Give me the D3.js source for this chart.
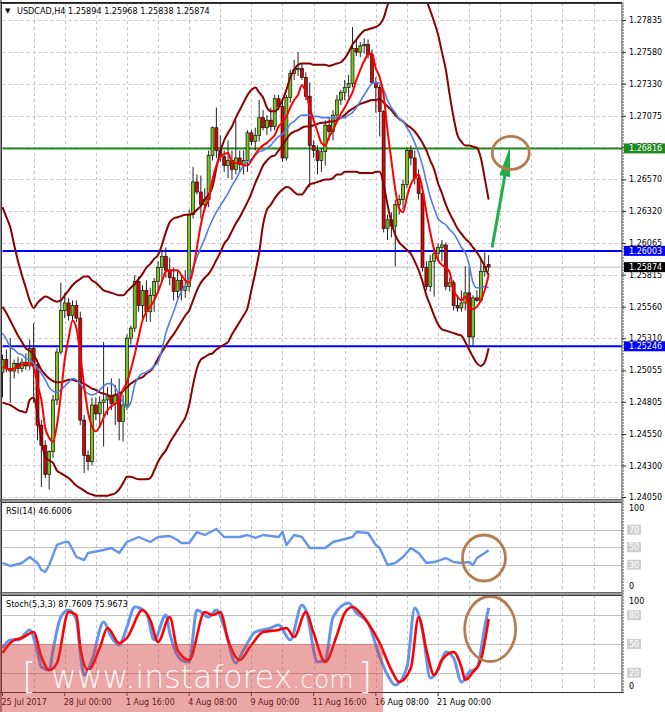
<!DOCTYPE html>
<html><head><meta charset="utf-8">
<script src="https://cdn.jsdelivr.net/npm/d3@7"></script>
<style>
body{margin:0;background:#fff;}
svg{display:block;}
text{font-family:"DejaVu Sans",sans-serif;}
</style>
</head><body>
<svg id="chart" width="665" height="712"></svg>
<script>
// ---------------- DATA ----------------
const opens=[1.2504,1.2514,1.2507,1.2505,1.2511,1.2507,1.2512,1.2509,1.2523,1.2510,
1.2462,1.2446,1.2423,1.2441,1.2482,1.2520,1.2553,1.2559,1.2549,1.2557,
1.2547,1.2466,1.2438,1.2433,1.2478,1.2471,1.2480,1.2482,1.2485,1.2479,
1.2486,1.2465,1.2478,1.2531,1.2539,1.2576,1.2557,1.2569,1.2552,1.2565,
1.2576,1.2587,1.2596,1.2585,1.2579,1.2568,1.2577,1.2569,1.2572,1.2629,
1.2655,1.2647,1.2637,1.2641,1.2676,1.2698,1.2680,1.2675,1.2668,1.2672,
1.2665,1.2674,1.2669,1.2672,1.2694,1.2687,1.2692,1.2706,1.2698,1.2704,
1.2699,1.2721,1.2715,1.2674,1.2722,1.2741,1.2744,1.2745,1.2738,1.2723,
1.2684,1.2680,1.2672,1.2679,1.2700,1.2695,1.2708,1.2720,1.2726,1.2730,
1.2733,1.2761,1.2758,1.2763,1.2764,1.2756,1.2734,1.2730,1.2711,1.2618,
1.2625,1.2620,1.2637,1.2641,1.2653,1.2680,1.2674,1.2658,1.2646,1.2587,
1.2572,1.2592,1.2598,1.2603,1.2605,1.2572,1.2575,1.2557,1.2555,1.2559,
1.2567,1.2532,1.2563,1.2561,1.2584,1.25894];
const highs=[1.2518,1.2522,1.2531,1.2514,1.2516,1.2515,1.2519,1.2530,1.2543,1.2514,
1.2466,1.2450,1.2442,1.2486,1.2523,1.2575,1.2567,1.2563,1.2561,1.2561,
1.2552,1.2470,1.2442,1.2484,1.2484,1.2485,1.2528,1.2492,1.2499,1.2494,
1.2499,1.2486,1.2534,1.2541,1.2581,1.2580,1.2573,1.2577,1.2571,1.2579,
1.2592,1.2601,1.2603,1.2595,1.2587,1.2584,1.2581,1.2585,1.2633,1.2667,
1.2661,1.2660,1.2650,1.2680,1.2699,1.2714,1.2692,1.2680,1.2688,1.2680,
1.2704,1.2680,1.2680,1.2696,1.2696,1.2698,1.2720,1.2712,1.2708,1.2714,
1.2724,1.2724,1.2720,1.2724,1.2744,1.2752,1.2758,1.2749,1.2742,1.2734,
1.2688,1.2684,1.2682,1.2704,1.2706,1.2712,1.2724,1.2728,1.2736,1.2740,
1.2778,1.2768,1.2766,1.2769,1.2768,1.2760,1.2738,1.2732,1.2712,1.2629,
1.2631,1.2641,1.2645,1.2657,1.2682,1.2684,1.2680,1.2665,1.2650,1.2592,
1.2597,1.2603,1.2606,1.2609,1.2607,1.2579,1.2577,1.2565,1.2569,1.2588,
1.2588,1.2565,1.2569,1.2593,1.2599,1.25968];
const lows=[1.2484,1.2504,1.2480,1.2499,1.2503,1.2504,1.2506,1.2506,1.2480,1.2450,
1.2413,1.2420,1.2411,1.2436,1.2478,1.2518,1.2547,1.2545,1.2545,1.2544,
1.2462,1.2424,1.2426,1.2430,1.2466,1.2462,1.2445,1.2470,1.2474,1.2462,
1.2450,1.2449,1.2474,1.2526,1.2536,1.2552,1.2547,1.2544,1.2544,1.2552,
1.2569,1.2576,1.2579,1.2573,1.2561,1.2563,1.2561,1.2563,1.2568,1.2626,
1.2645,1.2626,1.2631,1.2635,1.2672,1.2674,1.2671,1.2663,1.2658,1.2657,
1.2661,1.2663,1.2661,1.2663,1.2684,1.2680,1.2687,1.2696,1.2692,1.2695,
1.2696,1.2712,1.2671,1.2672,1.2718,1.2736,1.2739,1.2736,1.2720,1.2651,
1.2674,1.2661,1.2663,1.2668,1.2688,1.2688,1.2704,1.2716,1.2720,1.2722,
1.2730,1.2755,1.2754,1.2757,1.2753,1.2733,1.2710,1.2691,1.2615,1.2609,
1.2611,1.2588,1.2629,1.2633,1.2650,1.2668,1.2653,1.2641,1.2584,1.2569,
1.2568,1.2564,1.2592,1.2592,1.2569,1.2568,1.2553,1.2552,1.2552,1.2553,
1.2525,1.2525,1.2560,1.2559,1.2580,1.25838];
const closes=[1.2514,1.2507,1.2505,1.2511,1.2507,1.2512,1.2509,1.2523,1.2510,1.2462,
1.2446,1.2423,1.2441,1.2482,1.2520,1.2553,1.2559,1.2549,1.2557,1.2547,
1.2466,1.2438,1.2433,1.2478,1.2471,1.2480,1.2482,1.2485,1.2479,1.2486,
1.2465,1.2478,1.2531,1.2539,1.2576,1.2557,1.2569,1.2552,1.2565,1.2576,
1.2587,1.2596,1.2585,1.2579,1.2568,1.2577,1.2569,1.2572,1.2629,1.2655,
1.2647,1.2637,1.2641,1.2676,1.2698,1.2680,1.2675,1.2668,1.2672,1.2665,
1.2674,1.2669,1.2672,1.2694,1.2687,1.2692,1.2706,1.2698,1.2704,1.2699,
1.2721,1.2715,1.2674,1.2722,1.2741,1.2744,1.2745,1.2738,1.2723,1.2684,
1.2680,1.2672,1.2679,1.2700,1.2695,1.2708,1.2720,1.2726,1.2730,1.2733,
1.2761,1.2758,1.2763,1.2764,1.2756,1.2734,1.2730,1.2711,1.2618,1.2625,
1.2620,1.2637,1.2641,1.2653,1.2680,1.2674,1.2658,1.2646,1.2587,1.2572,
1.2592,1.2598,1.2603,1.2605,1.2572,1.2575,1.2557,1.2555,1.2559,1.2567,
1.2532,1.2563,1.2561,1.2584,1.2588,1.25874];

const maFast=[1.2508,1.2507,1.2506,1.2507,1.2508,1.2510,1.2511,1.2511,1.2508,1.2494,
1.2482,1.2460,1.2452,1.2449,1.2462,1.2486,1.2514,1.2531,1.2545,1.2539,
1.2518,1.2493,1.2472,1.2461,1.2457,1.2461,1.2468,1.2474,1.2477,1.2479,
1.2482,1.2490,1.2496,1.2506,1.2518,1.2532,1.2545,1.2552,1.2556,1.2561,
1.2568,1.2576,1.2584,1.2585,1.2585,1.2585,1.2581,1.2577,1.2575,1.2585,
1.2603,1.2621,1.2634,1.2641,1.2657,1.2668,1.2675,1.2677,1.2678,1.2671,
1.2670,1.2670,1.2668,1.2668,1.2672,1.2677,1.2681,1.2684,1.2686,1.2689,
1.2692,1.2699,1.2702,1.2707,1.2714,1.2720,1.2724,1.2732,1.2726,1.2714,
1.2704,1.2695,1.2686,1.2684,1.2691,1.2696,1.2703,1.2709,1.2714,1.2720,
1.2726,1.2736,1.2744,1.2751,1.2756,1.2757,1.2745,1.2738,1.2724,1.2696,
1.2672,1.2649,1.2634,1.2631,1.2643,1.2653,1.2658,1.2661,1.2649,1.2631,
1.2615,1.2601,1.2593,1.2589,1.2587,1.2583,1.2569,1.2564,1.2561,1.2564,
1.2555,1.2554,1.2556,1.2561,1.2569,1.2581];
const maSlow=[1.2535,1.2530,1.2524,1.2522,1.2519,1.2518,1.2515,1.2514,1.2511,1.2507,
1.2503,1.2498,1.2492,1.2489,1.2488,1.2490,1.2493,1.2496,1.2499,1.2498,
1.2495,1.2490,1.2487,1.2486,1.2487,1.2490,1.2493,1.2495,1.2495,1.2492,
1.2486,1.2480,1.2476,1.2480,1.2494,1.2500,1.2503,1.2504,1.2506,1.2509,
1.2512,1.2522,1.2535,1.2544,1.2552,1.2561,1.2568,1.2573,1.2579,1.2587,
1.2595,1.2603,1.2610,1.2618,1.2625,1.2631,1.2636,1.2641,1.2646,1.2652,
1.2657,1.2663,1.2668,1.2671,1.2673,1.2676,1.2679,1.2680,1.2682,1.2684,
1.2688,1.2691,1.2693,1.2696,1.2701,1.2703,1.2706,1.2708,1.2708,1.2708,
1.2707,1.2707,1.2706,1.2706,1.2706,1.2706,1.2706,1.2706,1.2706,1.2708,
1.2710,1.2714,1.2719,1.2724,1.2729,1.2733,1.2734,1.2733,1.2728,1.2720,
1.2714,1.2710,1.2705,1.2703,1.2698,1.2693,1.2686,1.2678,1.2668,1.2655,
1.2643,1.2634,1.2626,1.2623,1.2621,1.2617,1.2614,1.2609,1.2603,1.2599,
1.2589,1.2575,1.2571,1.2571,1.2572,1.2571];
const bbUpper=[1.2635,1.2627,1.2619,1.2605,1.2592,1.2581,1.2571,1.2561,1.2555,1.2559,
1.2562,1.2564,1.2563,1.2561,1.2560,1.2561,1.2565,1.2569,1.2573,1.2576,
1.2578,1.2580,1.2580,1.2577,1.2575,1.2572,1.2569,1.2568,1.2567,1.2566,
1.2565,1.2565,1.2568,1.2571,1.2574,1.2578,1.2582,1.2587,1.2590,1.2594,
1.2597,1.2605,1.2615,1.2623,1.2626,1.2627,1.2628,1.2629,1.2629,1.2630,
1.2633,1.2636,1.2641,1.2645,1.2651,1.2666,1.2679,1.2688,1.2694,1.2699,
1.2706,1.2712,1.2718,1.2724,1.2728,1.2730,1.2726,1.2722,1.2714,1.2711,
1.2711,1.2714,1.2720,1.2728,1.2738,1.2744,1.2748,1.2749,1.2749,1.2749,
1.2748,1.2748,1.2748,1.2748,1.2747,1.2748,1.2749,1.2750,1.2753,1.2758,
1.2764,1.2768,1.2772,1.2775,1.2776,1.2777,1.2778,1.2780,1.2785,1.2795,
1.2802,1.2806,1.2807,1.2807,1.2806,1.2804,1.2803,1.2801,1.2799,1.2798,
1.2791,1.2782,1.2772,1.2758,1.2744,1.2724,1.2706,1.2692,1.2687,1.2684,
1.2684,1.2683,1.2682,1.2674,1.2658,1.2641];
const bbMiddle=[1.2556,1.2551,1.2545,1.2539,1.2533,1.2528,1.2523,1.2521,1.2518,1.2512,
1.2506,1.2502,1.2499,1.2497,1.2496,1.2496,1.2497,1.2498,1.2498,1.2497,
1.2496,1.2495,1.2493,1.2491,1.2490,1.2488,1.2487,1.2486,1.2485,1.2486,
1.2487,1.2489,1.2492,1.2495,1.2497,1.2499,1.2500,1.2503,1.2505,1.2509,
1.2515,1.2520,1.2525,1.2530,1.2534,1.2539,1.2544,1.2549,1.2553,1.2561,
1.2569,1.2575,1.2579,1.2582,1.2587,1.2593,1.2599,1.2606,1.2610,1.2616,
1.2622,1.2627,1.2633,1.2639,1.2646,1.2654,1.2661,1.2668,1.2672,1.2675,
1.2676,1.2680,1.2684,1.2689,1.2693,1.2695,1.2696,1.2698,1.2699,1.2699,
1.2700,1.2701,1.2702,1.2702,1.2703,1.2703,1.2704,1.2706,1.2708,1.2711,
1.2713,1.2715,1.2717,1.2718,1.2719,1.2720,1.2720,1.2721,1.2718,1.2715,
1.2712,1.2708,1.2705,1.2703,1.2700,1.2698,1.2695,1.2691,1.2686,1.2680,
1.2672,1.2665,1.2654,1.2646,1.2637,1.2630,1.2624,1.2618,1.2614,1.2610,
1.2607,1.2603,1.2599,1.2594,1.2588,1.2581];
const bbLower=[1.2480,1.2479,1.2478,1.2476,1.2474,1.2473,1.2472,1.2482,1.2484,1.2471,
1.2450,1.2437,1.2434,1.2432,1.2426,1.2424,1.2422,1.2420,1.2417,1.2414,
1.2412,1.2410,1.2408,1.2407,1.2406,1.2406,1.2406,1.2406,1.2407,1.2408,
1.2411,1.2416,1.2421,1.2421,1.2420,1.2419,1.2419,1.2419,1.2420,1.2426,
1.2433,1.2438,1.2442,1.2448,1.2453,1.2458,1.2463,1.2468,1.2478,1.2494,
1.2507,1.2514,1.2516,1.2518,1.2519,1.2522,1.2524,1.2526,1.2528,1.2534,
1.2539,1.2544,1.2549,1.2555,1.2569,1.2583,1.2599,1.2621,1.2633,1.2637,
1.2642,1.2646,1.2649,1.2651,1.2650,1.2647,1.2645,1.2645,1.2649,1.2653,
1.2654,1.2655,1.2656,1.2657,1.2657,1.2658,1.2661,1.2661,1.2663,1.2663,
1.2663,1.2663,1.2662,1.2662,1.2662,1.2662,1.2663,1.2663,1.2653,1.2637,
1.2623,1.2613,1.2607,1.2604,1.2601,1.2598,1.2592,1.2585,1.2576,1.2565,
1.2557,1.2549,1.2542,1.2538,1.2537,1.2536,1.2535,1.2534,1.2533,1.2528,
1.2522,1.2516,1.2511,1.2509,1.2512,1.2523];

const rsiBars=[0,2,5,7,9,10,11,12,14,16,17,19,21,22,26,28,30,32,35,38,40,43,45,46,48,50,52,55,57,61,63,65,67,71,72,73,75,77,79,83,85,87,90,91,94,96,97,99,101,103,105,107,109,111,114,116,118,120,121,122,124,125];
const rsiValues=[32.0,28.6,32.0,38.9,32.0,24.0,21.7,29.7,52.6,56.0,56.0,38.9,35.4,43.4,46.9,49.1,43.4,56.0,61.7,56.0,61.7,62.9,58.3,54.9,54.9,67.4,64.0,70.9,61.7,61.7,64.0,60.6,64.0,61.7,67.4,52.6,64.0,61.7,49.1,49.1,56.0,58.3,61.7,67.4,66.3,52.6,49.1,29.7,32.0,38.9,49.1,43.4,32.0,33.1,37.7,33.1,32.0,33.1,29.7,37.7,43.4,46.6];

const stochKBars=[0,2,4,7,9,10,12,13,15,17,19,20,21,23,26,28,30,32,34,37,39,42,43,46,48,50,53,55,57,60,62,65,69,71,74,77,78,81,83,85,89,91,94,97,99,101,104,106,108,110,112,114,116,118,120,122,124,125];
const stochKValues=[45.8,54.2,54.2,64.6,41.7,26.0,22.9,43.8,78.1,85.4,75.0,40.6,17.7,33.3,72.9,57.3,49.0,67.7,88.5,82.3,54.2,80.2,61.5,33.3,31.3,85.4,78.1,85.4,67.7,30.2,43.8,62.5,66.7,69.8,54.2,90.6,85.4,31.3,33.3,78.1,92.7,82.3,71.9,36.5,17.7,7.3,26.0,87.5,64.6,14.6,22.9,41.7,35.4,10.4,20.8,25.0,67.7,87.8];
const stochDBars=[0,3,5,8,10,12,14,17,19,20,22,25,27,30,32,36,38,40,43,45,48,52,54,56,58,61,64,67,71,73,75,78,80,83,86,88,90,92,94,97,100,102,105,107,109,111,113,116,118,119,121,123,125];
const stochDValues=[40.6,54.2,56.3,62.5,36.5,22.9,30.2,83.3,80.2,46.9,22.9,45.8,66.7,51.0,56.3,85.4,75.0,52.1,78.1,43.8,33.3,83.3,80.2,83.3,54.2,33.3,49.0,62.5,64.6,66.7,57.3,83.3,61.5,31.3,59.4,82.3,88.5,82.3,71.9,51.0,22.9,10.4,25.0,78.1,43.8,17.7,33.3,41.7,26.0,12.5,20.8,33.3,76.0];

const priceTicks=[1.27835,1.27580,1.27330,1.27075,1.26825,1.26570,1.26320,1.26065,1.25815,1.25560,1.25310,1.25055,1.24805,1.24550,1.24300,1.24050];
const timeLabels=["25 Jul 2017","28 Jul 00:00","1 Aug 16:00","4 Aug 08:00","9 Aug 00:00","11 Aug 16:00","16 Aug 08:00","21 Aug 00:00"];
const timeLabelBars=[0,16,32,48,64,80,96,112];
const levelPrices=[1.26816,1.26003,1.25246];
const levelKinds=["green","blue","blue"];
const lastPrice=1.25874;
const rsiLevels=[70,50,30];
const stochLevels=[80,50,20];
const arrowFrom=[125.9,1.2603], arrowTo=[130.5,1.2683];
const circleMain=[130.7,1.2678], circleRsi=[123.8,37.7], circleStoch=[125.4,65.6];

// ---------------- DRAW ----------------
const svg=d3.select("#chart");
const L=2.5, R=622;
const x=d3.scaleLinear().domain([0,159.3]).range([L,R]);
const y=d3.scaleLinear().domain([1.24050,1.27835]).range([497,20]);
const yR=d3.scaleLinear().domain([0,100]).range([591,503.5]);
const yS=d3.scaleLinear().domain([0,100]).range([692,596]);
const main={top:3,bottom:499}, rsiP={top:502,bottom:592}, stoP={top:595,bottom:692};

svg.append("rect").attr("width",665).attr("height",712).attr("fill","#fff");
const defs=svg.append("defs");
[["clipMain",main],["clipRsi",rsiP],["clipSto",stoP]].forEach(([id,p])=>{
  defs.append("clipPath").attr("id",id).append("rect")
    .attr("x",L-1).attr("y",p.top).attr("width",R-L+1).attr("height",p.bottom-p.top);
});

const gridColor="#c6c6c6";
const vBars=d3.range(8,160,8);
function vGrid(p){
  svg.append("g").selectAll("line").data(vBars).join("line")
    .attr("x1",d=>Math.round(x(d))+0.5).attr("x2",d=>Math.round(x(d))+0.5)
    .attr("y1",p.top).attr("y2",p.bottom)
    .attr("stroke",gridColor).attr("stroke-dasharray","3,3");
}
vGrid(main);vGrid(rsiP);vGrid(stoP);

svg.append("g").selectAll("line").data(priceTicks).join("line")
  .attr("x1",L).attr("x2",R).attr("y1",d=>Math.round(y(d))+0.5).attr("y2",d=>Math.round(y(d))+0.5)
  .attr("stroke",gridColor).attr("stroke-dasharray","3,3");

svg.append("g").selectAll("line").data(rsiLevels).join("line")
  .attr("x1",L).attr("x2",R).attr("y1",d=>Math.round(yR(d))+0.5).attr("y2",d=>Math.round(yR(d))+0.5)
  .attr("stroke","#c0c0c0");
svg.append("g").selectAll("line").data(stochLevels).join("line")
  .attr("x1",L).attr("x2",R).attr("y1",d=>Math.round(yS(d))+0.5).attr("y2",d=>Math.round(yS(d))+0.5)
  .attr("stroke","#c0c0c0");

const gm=svg.append("g").attr("clip-path","url(#clipMain)");
gm.append("line").attr("x1",L).attr("x2",R).attr("y1",y(lastPrice)).attr("y2",y(lastPrice))
  .attr("stroke","#c0c0c0").attr("stroke-width",1);
gm.selectAll("line.lvl").data(levelPrices).join("line").attr("class","lvl")
  .attr("x1",L).attr("x2",R).attr("y1",d=>y(d)).attr("y2",d=>y(d))
  .attr("stroke",(d,i)=>levelKinds[i]==="green"?"#1f8b1f":"#0000ff").attr("stroke-width",2);

const bull="#78c61c", bear="#e10000";
gm.append("g").selectAll("line").data(closes).join("line")
  .attr("x1",(d,i)=>x(i)).attr("x2",(d,i)=>x(i))
  .attr("y1",(d,i)=>y(highs[i])).attr("y2",(d,i)=>y(lows[i]))
  .attr("stroke","#222").attr("stroke-width",1);
gm.append("g").selectAll("rect").data(closes).join("rect")
  .attr("x",(d,i)=>x(i)-1.5).attr("width",3)
  .attr("y",(d,i)=>y(Math.max(opens[i],closes[i])))
  .attr("height",(d,i)=>Math.max(0.8,Math.abs(y(opens[i])-y(closes[i]))))
  .attr("fill",(d,i)=>closes[i]>=opens[i]?bull:bear)
  .attr("stroke","#111").attr("stroke-width",0.7);

const line=d3.line().x((d,i)=>x(i)).y(d=>y(d)).curve(d3.curveMonotoneX);
[[bbUpper,"#8b0000",2],[bbMiddle,"#8b0000",2],[bbLower,"#8b0000",2],[maSlow,"#4f7fe6",1.6],[maFast,"#ff0000",2]]
  .forEach(([arr,c,w])=>{
    gm.append("path").attr("d",line(arr)).attr("fill","none").attr("stroke",c).attr("stroke-width",w).attr("stroke-linejoin","round");
  });

(function(){
  const x0=x(arrowFrom[0]),y0=y(arrowFrom[1]),x1=x(arrowTo[0]),y1=y(arrowTo[1]);
  const dx=x1-x0,dy=y1-y0,len=Math.hypot(dx,dy),ux=dx/len,uy=dy/len;
  const hl=30,hw=5.5;
  const bx=x1-ux*hl,by=y1-uy*hl;
  gm.append("line").attr("x1",x0).attr("y1",y0).attr("x2",bx+ux*4).attr("y2",by+uy*4)
    .attr("stroke","#1fae4a").attr("stroke-width",3);
  gm.append("path").attr("d",`M${x1},${y1}L${bx-uy*hw},${by+ux*hw}L${bx+uy*hw},${by-ux*hw}Z`)
    .attr("fill","#1fae4a");
})();
gm.append("ellipse").attr("cx",x(circleMain[0])).attr("cy",y(circleMain[1])).attr("rx",18.5).attr("ry",16.5)
  .attr("fill","none").attr("stroke","#b57c52").attr("stroke-width",2.8);

const gr=svg.append("g").attr("clip-path","url(#clipRsi)");
gr.append("path").attr("d",d3.line().x((d,i)=>x(rsiBars[i])).y(d=>yR(d))(rsiValues))
  .attr("fill","none").attr("stroke","#6495ed").attr("stroke-width",2.4).attr("stroke-linejoin","round");
gr.append("ellipse").attr("cx",x(circleRsi[0])).attr("cy",yR(circleRsi[1])).attr("rx",21.5).attr("ry",23)
  .attr("fill","none").attr("stroke","#b57c52").attr("stroke-width",2.8);

const gs=svg.append("g").attr("clip-path","url(#clipSto)");
gs.append("path").attr("d",d3.line().x((d,i)=>x(stochKBars[i])).y(d=>yS(d)).curve(d3.curveMonotoneX)(stochKValues))
  .attr("fill","none").attr("stroke","#6495ed").attr("stroke-width",3).attr("stroke-linejoin","round");
gs.append("path").attr("d",d3.line().x((d,i)=>x(stochDBars[i])).y(d=>yS(d)).curve(d3.curveMonotoneX)(stochDValues))
  .attr("fill","none").attr("stroke","#ff0000").attr("stroke-width",2.6).attr("stroke-linejoin","round");
gs.append("ellipse").attr("cx",x(circleStoch[0])).attr("cy",yS(circleStoch[1])).attr("rx",25.5).attr("ry",32.5)
  .attr("fill","none").attr("stroke","#b57c52").attr("stroke-width",2.8);

[main,rsiP,stoP].forEach(p=>{
  svg.append("rect").attr("x",1.5).attr("y",p.top+0.5).attr("width",R-1.5).attr("height",p.bottom-p.top)
    .attr("fill","none").attr("stroke","#3a3a3a").attr("stroke-width",1);
});
[[499.5,502],[592.5,595]].forEach(([a,b])=>{
  svg.append("rect").attr("x",0).attr("y",a).attr("width",R+2).attr("height",b-a).attr("fill","#9a9a9a");
});
svg.append("line").attr("x1",R+1.5).attr("x2",R+1.5).attr("y1",2).attr("y2",692).attr("stroke","#a0a0a0").attr("stroke-dasharray","2,1");
svg.append("line").attr("x1",1).attr("x2",1).attr("y1",0).attr("y2",712).attr("stroke","#222");
svg.append("line").attr("x1",0).attr("x2",R).attr("y1",2.5).attr("y2",2.5).attr("stroke","#222");

const ax=svg.append("g").attr("transform",`translate(${R},0)`)
  .call(d3.axisRight(y).tickValues(priceTicks).tickSize(4).tickFormat(d3.format(".5f")));
ax.select(".domain").remove();
ax.selectAll("text").attr("font-size",8).attr("font-family","DejaVu Sans").attr("fill","#000").attr("x",7);
ax.selectAll("line").attr("stroke","#333");

function box(val,fill){
  const yy=y(val);
  svg.append("rect").attr("x",R+2).attr("y",yy-5).attr("width",41).attr("height",10).attr("fill",fill);
  svg.append("text").attr("x",R+7).attr("y",yy+3).attr("font-size",8).attr("fill","#fff").text(val.toFixed(5));
}
levelPrices.forEach((v,i)=>box(v,levelKinds[i]==="green"?"#1f8b1f":"#0000ff"));
box(lastPrice,"#000");

function sideLabels(scale,levels,top,bottom){
  svg.append("text").attr("x",R+7).attr("y",top+9).attr("font-size",8).text("100");
  svg.append("text").attr("x",R+7).attr("y",bottom-3).attr("font-size",8).text("0");
  levels.forEach(v=>{
    svg.append("rect").attr("x",R+5).attr("y",scale(v)-5).attr("width",14).attr("height",10).attr("fill","#cfcfcf");
    svg.append("text").attr("x",R+7).attr("y",scale(v)+3).attr("font-size",8).attr("fill","#fff").text(v);
  });
}
sideLabels(yR,rsiLevels,rsiP.top,rsiP.bottom);
sideLabels(yS,stochLevels,stoP.top,stoP.bottom);

svg.append("text").attr("x",5).attr("y",13).attr("font-size",7).text("▼");
svg.append("text").attr("x",17).attr("y",14).attr("font-size",8.1)
  .text("USDCAD,H4  1.25894 1.25968 1.25838 1.25874");
svg.append("text").attr("x",6).attr("y",514).attr("font-size",8.1).text("RSI(14) 46.6006");
svg.append("text").attr("x",6).attr("y",607).attr("font-size",8.1).text("Stoch(5,3,3) 87.7609 75.9673");

svg.append("line").attr("x1",0).attr("x2",R+2).attr("y1",692.5).attr("y2",692.5).attr("stroke","#333");
svg.append("g").selectAll("line").data(timeLabelBars).join("line")
  .attr("x1",d=>x(d)).attr("x2",d=>x(d)).attr("y1",692).attr("y2",696).attr("stroke","#333");
svg.append("g").selectAll("text").data(timeLabels).join("text")
  .attr("x",(d,i)=>x(timeLabelBars[i])-1).attr("y",705).attr("font-size",8).text(d=>d);

// watermark (single text with tspans)
svg.append("rect").attr("x",0).attr("y",644).attr("width",383).attr("height",68)
  .attr("fill","#d23a3a").attr("opacity",0.45);
const wm=svg.append("text").attr("fill","#fff").attr("opacity",0.92)
  .attr("font-family","Open Sans").attr("font-weight",300).attr("y",688);
wm.append("tspan").attr("x",22).attr("font-size",36).text("[");
wm.append("tspan").attr("x",51).attr("font-size",31.5).text("www.instaforex");
wm.append("tspan").attr("font-size",25).text(".com");
wm.append("tspan").attr("x",358).attr("font-size",36).text("]");
</script>
</body></html>
